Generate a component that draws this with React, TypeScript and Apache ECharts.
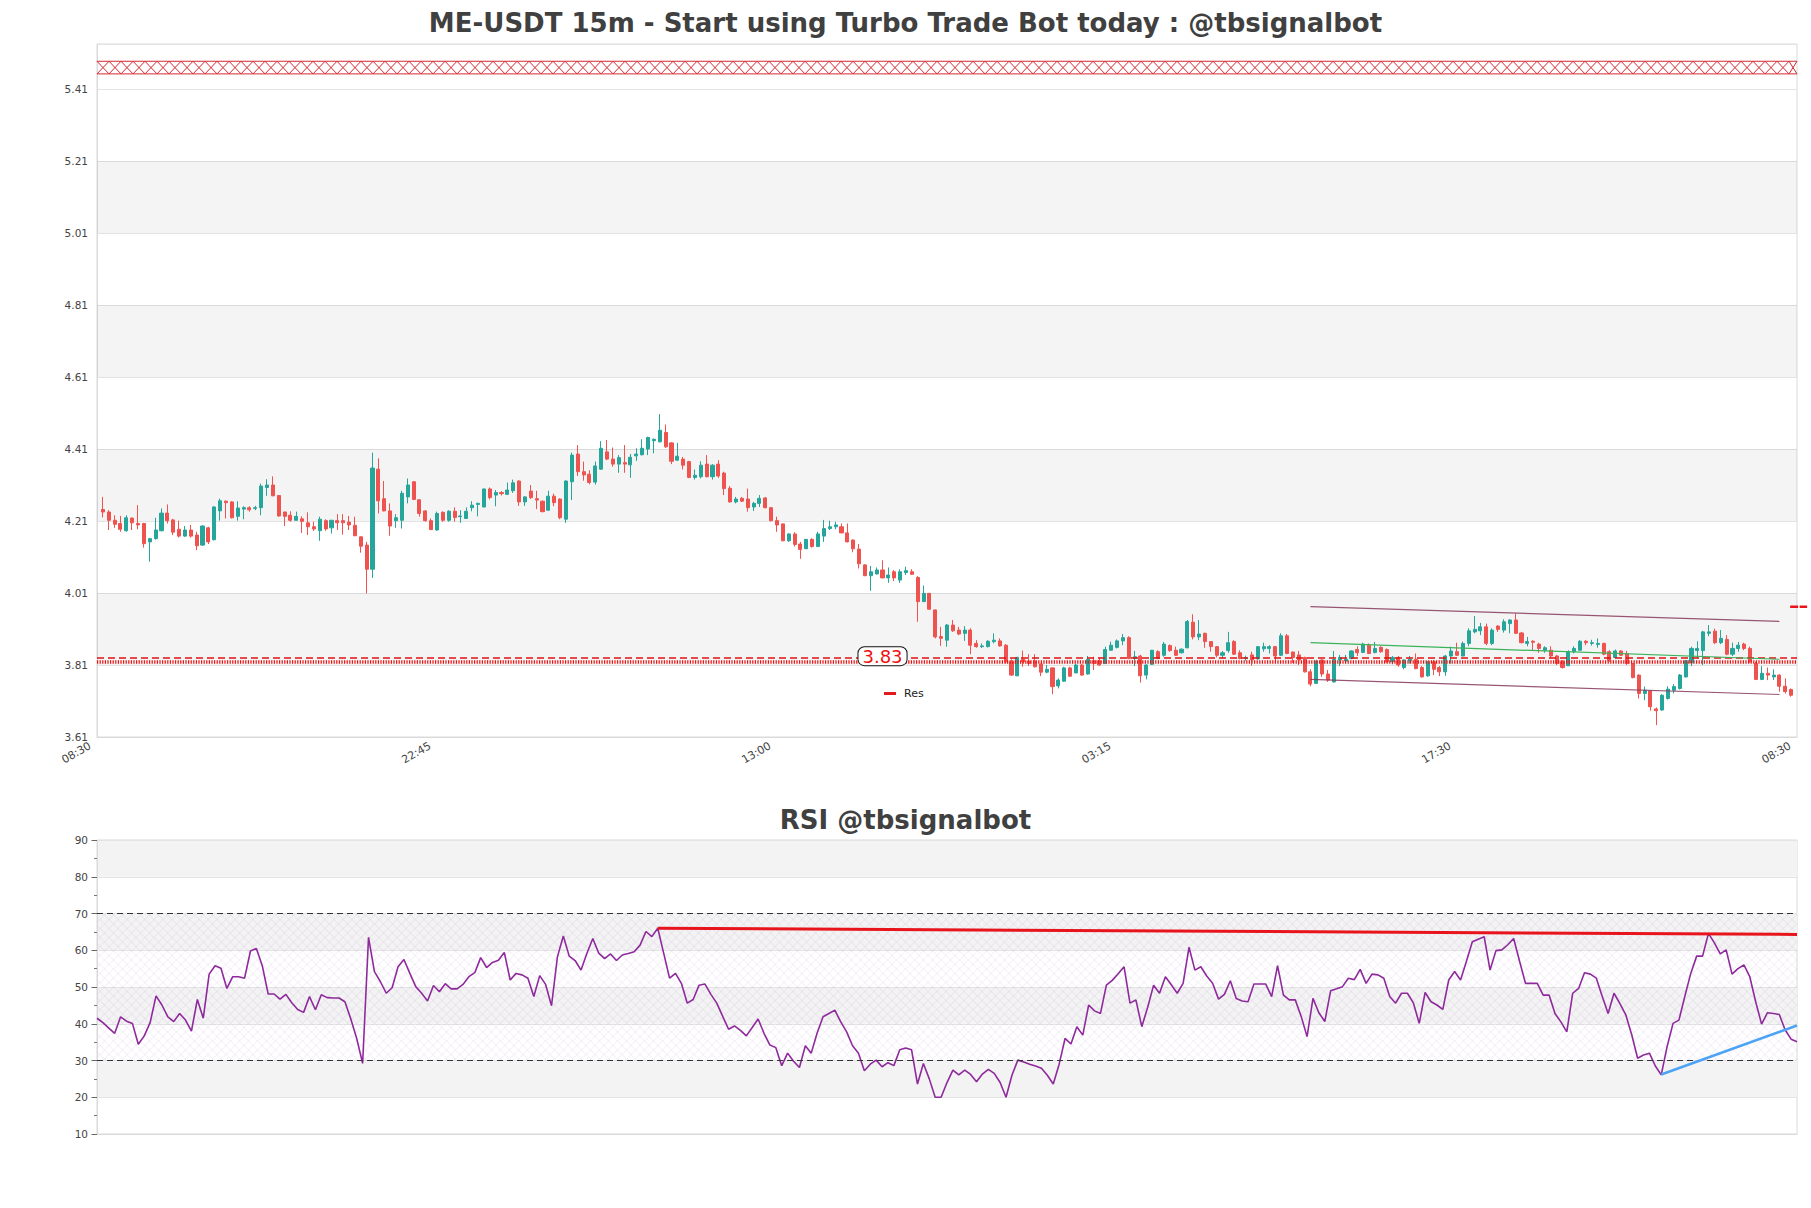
import React, { useEffect, useRef } from "react";
import * as echarts from "echarts";

// ---------------- DATA ----------------
const N = 289;

const opens = [
  4.242,4.235,4.212,4.203,4.183,4.218,4.203,4.203,4.152,4.161,
  4.183,4.232,4.213,4.187,4.168,4.185,4.171,4.143,4.191,4.158,
  4.238,4.265,4.263,4.223,4.243,4.247,4.245,4.247,4.303,4.310,
  4.281,4.235,4.226,4.212,4.216,4.205,4.194,4.183,4.211,4.191,
  4.211,4.211,4.207,4.198,4.166,4.143,4.076,4.354,4.272,4.238,
  4.211,4.212,4.277,4.319,4.269,4.238,4.211,4.185,
  4.234,4.212,4.237,4.222,4.217,4.247,4.256,4.249,4.299,4.282,
  4.289,4.284,4.294,4.321,4.263,4.293,4.272,4.265,4.240,4.279,
  4.271,4.215,4.319,4.396,4.347,4.340,4.318,4.354,4.402,4.382,
  4.368,4.372,4.366,4.391,4.394,4.410,4.433,4.430,4.456,4.427,
  4.379,4.382,4.375,4.331,4.333,4.368,4.333,4.368,4.343,4.301,
  4.263,4.273,4.271,4.249,4.259,4.274,4.247,4.211,
  4.202,4.155,4.174,4.146,4.133,4.159,4.139,4.168,4.189,4.194,
  4.194,4.177,4.157,4.132,4.088,4.058,4.063,4.074,4.052,4.069,
  4.046,4.067,4.069,4.053,3.986,4.009,3.963,3.889,3.879,3.921,
  3.907,3.898,3.907,3.870,3.861,3.861,3.875,3.877,3.865,3.819,
  3.780,3.826,3.821,3.821,3.813,3.790,3.802,3.752,3.765,3.802,
  3.788,3.810,3.785,3.822,3.822,3.814,3.851,3.859,
  3.877,3.886,3.828,3.835,3.782,3.812,3.847,3.837,3.864,3.851,
  3.844,3.858,3.929,3.888,3.898,3.875,3.861,3.837,3.850,3.875,
  3.844,3.828,3.838,3.827,3.855,3.856,3.861,3.837,3.891,3.846,
  3.838,3.831,3.791,3.759,3.824,3.785,3.763,3.824,3.821,3.828,
  3.853,3.845,3.865,3.845,3.859,3.853,3.819,3.831,3.803,3.822,
  3.826,3.803,3.780,3.819,3.803,3.791,3.835,3.847,
  3.835,3.870,3.902,3.905,3.916,3.870,3.918,3.907,3.925,3.935,
  3.899,3.870,3.876,3.868,3.851,3.851,3.835,3.819,3.808,3.847,
  3.851,3.876,3.870,3.867,3.870,3.847,3.831,3.849,3.842,3.814,
  3.782,3.731,3.738,3.688,3.685,3.717,3.740,3.745,3.777,3.816,
  3.850,3.850,3.898,3.904,3.872,3.881,3.840,3.856,3.868,3.856,
  3.814,3.770,3.787,3.777,3.782,3.751,3.742,
];

const closes = [
  4.235,4.212,4.201,4.187,4.219,4.205,4.199,4.147,4.161,4.185,
  4.232,4.211,4.179,4.168,4.185,4.168,4.141,4.196,4.152,4.249,
  4.266,4.261,4.219,4.246,4.247,4.241,4.247,4.307,4.310,4.280,
  4.224,4.223,4.212,4.223,4.209,4.194,4.188,4.215,4.188,4.212,
  4.205,4.205,4.199,4.169,4.140,4.076,4.357,4.266,4.238,4.196,
  4.219,4.287,4.310,4.270,4.231,4.211,4.186,4.231,
  4.212,4.237,4.220,4.224,4.237,4.254,4.259,4.299,4.275,4.289,
  4.286,4.296,4.316,4.263,4.277,4.275,4.268,4.236,4.279,4.261,
  4.219,4.321,4.393,4.347,4.338,4.317,4.363,4.412,4.382,4.368,
  4.386,4.368,4.387,4.396,4.412,4.442,4.437,4.462,4.416,4.376,
  4.390,4.365,4.331,4.337,4.365,4.333,4.365,4.335,4.300,4.263,
  4.271,4.265,4.247,4.259,4.273,4.247,4.211,4.199,
  4.155,4.174,4.145,4.131,4.159,4.139,4.174,4.189,4.194,4.199,
  4.177,4.152,4.133,4.091,4.058,4.069,4.074,4.052,4.060,4.052,
  4.069,4.072,4.062,3.986,4.009,3.965,3.888,3.884,3.921,3.905,
  3.896,3.907,3.865,3.861,3.863,3.876,3.879,3.863,3.819,3.782,
  3.831,3.819,3.814,3.805,3.790,3.798,3.750,3.768,3.802,3.779,
  3.810,3.782,3.826,3.814,3.810,3.853,3.865,3.877,
  3.886,3.828,3.833,3.780,3.810,3.851,3.828,3.868,3.850,3.837,
  3.854,3.931,3.888,3.896,3.875,3.861,3.837,3.844,3.872,3.840,
  3.828,3.830,3.824,3.861,3.861,3.861,3.835,3.891,3.842,3.831,
  3.824,3.791,3.757,3.821,3.785,3.768,3.825,3.831,3.826,3.849,
  3.844,3.868,3.842,3.856,3.847,3.819,3.831,3.810,3.824,3.826,
  3.800,3.777,3.819,3.798,3.791,3.835,3.849,3.837,
  3.870,3.905,3.909,3.916,3.870,3.907,3.909,3.930,3.935,3.898,
  3.872,3.875,3.873,3.856,3.858,3.835,3.814,3.803,3.847,3.856,
  3.876,3.872,3.872,3.870,3.840,3.822,3.849,3.837,3.814,3.775,
  3.731,3.740,3.694,3.683,3.726,3.743,3.750,3.782,3.822,3.856,
  3.856,3.902,3.902,3.872,3.884,3.840,3.856,3.865,3.856,3.819,
  3.770,3.787,3.782,3.782,3.751,3.736,3.726,
];

const lows = [
  4.220,4.185,4.191,4.180,4.180,4.185,4.187,4.136,4.097,4.158,
  4.181,4.203,4.171,4.164,4.166,4.164,4.129,4.141,4.146,4.156,
  4.211,4.217,4.217,4.211,4.215,4.236,4.240,4.226,4.280,4.279,
  4.222,4.196,4.208,4.211,4.177,4.171,4.182,4.155,4.183,4.175,
  4.185,4.172,4.185,4.168,4.122,4.009,4.052,4.231,4.237,4.169,
  4.191,4.189,4.259,4.268,4.222,4.208,4.185,4.183,
  4.208,4.208,4.208,4.205,4.216,4.237,4.223,4.248,4.270,4.251,
  4.281,4.282,4.288,4.252,4.252,4.271,4.243,4.234,4.238,4.251,
  4.215,4.205,4.268,4.335,4.322,4.312,4.311,4.352,4.379,4.361,
  4.344,4.344,4.330,4.377,4.392,4.393,4.398,4.428,4.413,4.368,
  4.377,4.353,4.329,4.325,4.328,4.331,4.325,4.330,4.282,4.261,
  4.259,4.263,4.236,4.238,4.249,4.245,4.209,4.180,
  4.154,4.152,4.139,4.105,4.132,4.136,4.138,4.152,4.185,4.187,
  4.176,4.151,4.123,4.078,4.057,4.016,4.061,4.051,4.038,4.043,
  4.038,4.060,4.060,3.930,3.985,3.963,3.884,3.863,3.861,3.902,
  3.893,3.877,3.840,3.858,3.857,3.859,3.870,3.861,3.814,3.780,
  3.779,3.805,3.807,3.803,3.779,3.787,3.729,3.745,3.763,3.777,
  3.787,3.780,3.783,3.796,3.808,3.813,3.850,3.856,
  3.865,3.826,3.807,3.761,3.770,3.810,3.826,3.833,3.847,3.835,
  3.842,3.856,3.881,3.879,3.858,3.847,3.831,3.828,3.844,3.838,
  3.826,3.822,3.808,3.825,3.847,3.842,3.819,3.835,3.840,3.816,
  3.810,3.789,3.751,3.757,3.777,3.763,3.761,3.807,3.814,3.826,
  3.835,3.843,3.840,3.842,3.844,3.816,3.812,3.805,3.798,3.814,
  3.798,3.775,3.777,3.782,3.779,3.780,3.814,3.835,
  3.834,3.862,3.898,3.893,3.865,3.865,3.902,3.900,3.898,3.896,
  3.870,3.862,3.851,3.844,3.844,3.828,3.810,3.800,3.807,3.842,
  3.849,3.865,3.864,3.858,3.837,3.819,3.828,3.835,3.810,3.773,
  3.717,3.712,3.683,3.643,3.683,3.714,3.731,3.742,3.775,3.807,
  3.828,3.810,3.890,3.868,3.868,3.837,3.835,3.847,3.851,3.816,
  3.768,3.768,3.768,3.768,3.736,3.731,3.722,
];

const highs = [
  4.277,4.240,4.226,4.224,4.226,4.220,4.254,4.205,4.163,4.219,
  4.245,4.256,4.216,4.211,4.196,4.199,4.180,4.198,4.194,4.251,
  4.272,4.267,4.265,4.265,4.251,4.251,4.252,4.314,4.326,4.334,
  4.282,4.236,4.237,4.236,4.223,4.234,4.208,4.222,4.215,4.213,
  4.229,4.229,4.224,4.222,4.167,4.152,4.400,4.384,4.321,4.259,
  4.229,4.294,4.328,4.321,4.270,4.240,4.217,4.236,
  4.237,4.240,4.248,4.240,4.248,4.265,4.261,4.300,4.303,4.296,
  4.293,4.317,4.325,4.323,4.279,4.310,4.294,4.267,4.294,4.286,
  4.273,4.323,4.400,4.421,4.375,4.351,4.375,4.432,4.435,4.414,
  4.393,4.421,4.396,4.412,4.437,4.444,4.439,4.507,4.478,4.429,
  4.427,4.388,4.377,4.353,4.376,4.393,4.368,4.379,4.347,4.307,
  4.277,4.277,4.300,4.263,4.282,4.277,4.249,4.222,
  4.203,4.176,4.179,4.152,4.160,4.162,4.180,4.213,4.211,4.208,
  4.203,4.203,4.159,4.146,4.090,4.085,4.081,4.101,4.081,4.074,
  4.076,4.083,4.076,4.057,4.031,4.010,3.964,3.916,3.924,3.935,
  3.916,3.918,3.912,3.879,3.870,3.879,3.898,3.884,3.868,3.826,
  3.833,3.850,3.840,3.840,3.814,3.810,3.803,3.773,3.805,3.805,
  3.814,3.813,3.835,3.833,3.831,3.861,3.875,3.881,
  3.896,3.890,3.849,3.838,3.812,3.852,3.851,3.874,3.867,3.861,
  3.856,3.935,3.951,3.935,3.900,3.876,3.862,3.849,3.902,3.879,
  3.851,3.836,3.847,3.862,3.872,3.865,3.863,3.898,3.896,3.847,
  3.849,3.833,3.798,3.824,3.826,3.796,3.849,3.838,3.838,3.851,
  3.862,3.872,3.870,3.874,3.862,3.856,3.835,3.835,3.826,3.835,
  3.842,3.807,3.821,3.824,3.807,3.838,3.861,3.872,
  3.875,3.912,3.946,3.927,3.925,3.912,3.921,3.937,3.937,3.953,
  3.902,3.888,3.879,3.872,3.862,3.862,3.838,3.824,3.851,3.862,
  3.879,3.879,3.880,3.884,3.872,3.851,3.853,3.851,3.849,3.816,
  3.784,3.750,3.740,3.692,3.729,3.751,3.757,3.785,3.824,3.861,
  3.876,3.905,3.921,3.911,3.907,3.893,3.872,3.874,3.872,3.861,
  3.819,3.807,3.803,3.798,3.784,3.773,3.745,
];

const rsiValues = [
  41.5,40.3,38.8,37.4,41.9,40.7,40.1,34.4,36.7,40.3,
  47.6,45.1,41.9,40.6,42.8,41.0,38.0,46.6,41.5,53.5,
  55.8,55.1,49.6,52.8,52.8,52.4,59.8,60.5,55.8,48.1,
  48.1,46.7,48.0,45.7,43.9,43.1,47.4,43.8,47.9,47.1,
  47.0,47.0,46.0,41.3,36.0,29.2,63.5,54.2,51.5,48.3,
  49.8,55.5,57.5,53.7,50.1,48.3,46.2,50.4,48.7,50.9,
  49.5,49.5,50.7,52.8,53.9,58.0,55.3,56.7,57.3,59.4,
  51.9,53.7,53.3,52.4,47.4,53.1,50.7,44.9,58.2,63.9,
  58.4,57.2,54.6,59.2,63.2,59.2,57.7,59.0,57.2,58.7,
  59.1,59.6,61.4,65.1,63.7,66.0,59.2,52.4,53.7,51.0,
  45.6,46.6,50.5,50.8,48.0,45.6,42.0,38.5,39.4,38.2,
  36.7,39.0,41.3,37.4,34.2,33.5,28.6,32.0,29.8,28.1,
  34.0,32.0,37.5,41.9,42.8,43.7,40.5,37.8,34.0,32.0,
  27.2,29.0,30.1,28.3,29.4,28.6,32.9,33.4,32.9,23.6,
  29.2,25.0,20.0,20.0,24.0,27.4,26.1,27.4,26.2,24.2,
  26.3,27.6,26.5,24.0,20.0,26.0,30.1,29.6,29.0,28.5,
  27.9,26.0,23.6,29.0,36.0,34.5,39.2,36.9,45.1,43.5,
  42.8,50.5,51.8,53.6,55.5,45.6,46.5,39.2,44.5,50.5,
  48.3,52.8,50.6,48.3,51.0,60.8,54.6,55.5,53.0,51.0,
  46.7,48.0,51.7,46.9,46.2,46.0,50.8,50.8,50.8,47.4,
  55.8,47.8,46.5,46.5,42.0,36.5,46.9,43.0,40.6,49.0,
  49.5,50.1,52.4,52.0,54.8,51.0,53.5,53.3,52.4,47.4,
  45.6,48.3,48.3,45.7,40.1,48.5,46.0,45.1,43.9,51.9,
  54.2,51.9,57.0,62.3,63.0,63.7,54.6,59.9,60.1,61.5,
  63.2,57.0,51.0,51.0,51.0,47.8,47.8,42.8,40.5,37.8,
  48.3,49.6,53.9,53.5,52.4,47.5,42.8,48.3,45.5,42.4,
  37.0,30.6,31.5,32.0,28.5,26.1,33.8,40.1,41.0,47.5,
  53.7,58.4,58.4,64.6,62.0,59.0,60.1,53.5,55.0,56.0,
  52.8,46.0,39.9,43.0,42.8,42.5,38.3,35.8,35.1,
];

const xTickLabels = ["08:30", "22:45", "13:00", "03:15", "17:30", "08:30"];
const priceMin = 3.61;
const priceMax = 5.535;
const priceStep = 0.2;
const priceBands = [[3.81, 4.01], [4.21, 4.41], [4.61, 4.81], [5.01, 5.21]];
const topZone = [5.452, 5.487];
const resLevel = 3.829;
const resZoneLevel = 3.8195;
const resLabelAt = 133;
const channelUpper = [[206, 3.972], [286, 3.931]];
const channelLower = [[206, 3.770], [286, 3.728]];
const channelMid = [[206, 3.872], [286, 3.826]];
const lastMarker = [288, 3.972];
const rsiLevels = [30, 70];
const rsiResistance = [[95, 66.0], [288, 64.3]];
const rsiSupport = [[265, 26.2], [288, 39.5]];

// ---------------- STYLE ----------------
const FONT = "'DejaVu Sans', 'Noto Sans', sans-serif";
const UP = "#26a69a";
const DOWN = "#ef5350";
const GRID_LINE = "#e3e3e3";
const FRAME = "#dadada";
const LABEL = "#444444";

function buildTimes(count: number) {
  const out: string[] = [];
  const start = 8 * 60 + 30;
  for (let i = 0; i < count; i++) {
    const t = start + i * 15;
    const day = Math.floor(t / 1440) + 1;
    const m = t % 1440;
    const hh = String(Math.floor(m / 60)).padStart(2, "0");
    const mm = String(m % 60).padStart(2, "0");
    out.push(`D${day} ${hh}:${mm}`);
  }
  return out;
}

export default function App() {
  const ref = useRef<HTMLDivElement>(null);

  useEffect(() => {
    if (!ref.current) return;
    const chart = echarts.init(ref.current, null, { renderer: "svg" });

    const times = buildTimes(N);
    const mainCats = ["pad-start", ...times, "pad-end"];
    const empty = ["-", "-", "-", "-"];
    const candleData = [
      empty,
      ...opens.map((o, i) => [o, closes[i], lows[i], highs[i]]),
      empty,
    ];
    const shift = (pts: number[][]) => pts.map(([i, v]) => [i + 1, v]);

    const lastCat = mainCats.length - 1;
    const tickCatIdx = xTickLabels.map((_, k) =>
      Math.round((k * lastCat) / (xTickLabels.length - 1))
    );
    const tickSet = new Set(tickCatIdx);
    const labelByCat: Record<string, string> = {};
    tickCatIdx.forEach((ci, k) => {
      labelByCat[mainCats[ci]] = xTickLabels[k];
    });
    const tickInterval = (index: number) => tickSet.has(index);

    const option: any = {
      animation: false,
      backgroundColor: "#ffffff",
      textStyle: { fontFamily: FONT },
      title: [
        {
          text: "ME-USDT 15m - Start using Turbo Trade Bot today : @tbsignalbot",
          left: "center",
          top: 8,
          padding: 0,
          textStyle: { fontSize: 26, fontWeight: "bold", color: "#404040", fontFamily: FONT, lineHeight: 30 },
        },
        {
          text: "RSI @tbsignalbot",
          left: "center",
          top: 805,
          padding: 0,
          textStyle: { fontSize: 26, fontWeight: "bold", color: "#404040", fontFamily: FONT, lineHeight: 30 },
        },
      ],
      legend: {
        data: ["Res"],
        left: 884,
        top: 688,
        padding: 0,
        icon: "rect",
        itemWidth: 12,
        itemHeight: 3,
        selectedMode: false,
        textStyle: { fontSize: 11, color: "#222", fontFamily: FONT, padding: [0, 0, 0, 3] },
      },
      grid: [
        { left: 97, top: 44, width: 1700, height: 693, show: true, borderColor: FRAME, borderWidth: 1, backgroundColor: "transparent", outerBoundsMode: "none" },
        { left: 97, top: 840, width: 1700, height: 294, show: true, borderColor: FRAME, borderWidth: 1, backgroundColor: "transparent", outerBoundsMode: "none" },
      ],
      xAxis: [
        {
          type: "category",
          gridIndex: 0,
          data: mainCats,
          boundaryGap: false,
          axisLine: { show: true, lineStyle: { color: FRAME } },
          axisTick: { show: false },
          axisLabel: {
            show: true,
            interval: tickInterval,
            rotate: 30,
            margin: 4,
            fontSize: 11,
            color: LABEL,
            fontFamily: FONT,
            padding: [0, 8, 0, 0],
            formatter: (v: string) => labelByCat[v] ?? "",
          },
          splitLine: { show: false },
        },
        {
          type: "category",
          gridIndex: 1,
          data: times,
          boundaryGap: false,
          axisLine: { show: true, lineStyle: { color: FRAME } },
          axisTick: { show: false },
          axisLabel: { show: false },
          splitLine: { show: false },
        },
      ],
      yAxis: [
        {
          type: "value",
          gridIndex: 0,
          min: priceMin,
          max: priceMax,
          interval: priceStep,
          axisLine: { show: true, lineStyle: { color: FRAME } },
          axisTick: { show: false },
          axisLabel: {
            showMaxLabel: false,
            margin: 9,
            fontSize: 10.5,
            color: LABEL,
            fontFamily: FONT,
            formatter: (v: number) => v.toFixed(2),
          },
          splitLine: { show: true, lineStyle: { color: GRID_LINE, width: 1 } },
          splitArea: { show: false },
        },
        {
          type: "value",
          gridIndex: 1,
          min: 10,
          max: 90,
          interval: 10,
          axisLine: { show: true, lineStyle: { color: FRAME } },
          axisTick: { show: true, length: 5.5, lineStyle: { color: "#666" } },
          minorTick: { show: true, splitNumber: 2, length: 3, lineStyle: { color: "#777" } },
          axisLabel: { margin: 9, fontSize: 10.5, color: LABEL, fontFamily: FONT },
          splitLine: { show: true, lineStyle: { color: GRID_LINE, width: 1 } },
          splitArea: { show: true, areaStyle: { color: ["rgba(255,255,255,0)", "#f3f3f3"] } },
        },
      ],
      series: [
        {
          type: "custom",
          name: "zone",
          xAxisIndex: 0,
          yAxisIndex: 0,
          silent: true,
          z: 3,
          data: [[1, (topZone[0] + topZone[1]) / 2]],
          renderItem: (params: any, api: any) => {
            const cs = params.coordSys;
            const yT = api.coord([1, topZone[1]])[1];
            const yB = api.coord([1, topZone[0]])[1];
            const x0 = cs.x;
            const x1 = cs.x + cs.width;
            const cell = 12;
            let d = `M${x0},${yT}L${x1},${yT}M${x0},${yB}L${x1},${yB}`;
            for (let x = x0; x < x1 - 0.5; x += cell) {
              const xe = Math.min(x + cell, x1);
              d += `M${x},${yT}L${xe},${yB}M${x},${yB}L${xe},${yT}`;
            }
            return {
              type: "path",
              shape: { pathData: d },
              style: { stroke: "#d42a32", fill: "none", lineWidth: 1 },
            };
          },
        },
        {
          type: "candlestick",
          name: "Candles",
          xAxisIndex: 0,
          yAxisIndex: 0,
          data: candleData,
          barWidth: 3.6,
          z: 4,
          itemStyle: {
            color: UP,
            color0: DOWN,
            borderColor: UP,
            borderColor0: DOWN,
            borderWidth: 1,
          },
          markArea: {
            silent: true,
            itemStyle: { color: "rgba(0,0,0,0.045)" },
            data: priceBands.map(([a, b]) => [{ yAxis: a }, { yAxis: b }]),
          },
        },
        {
          type: "line",
          name: "Upper",
          xAxisIndex: 0,
          yAxisIndex: 0,
          data: shift(channelUpper),
          symbol: "none",
          silent: true,
          z: 5,
          lineStyle: { color: "#86385a", width: 1.2, opacity: 0.85 },
        },
        {
          type: "line",
          name: "Lower",
          xAxisIndex: 0,
          yAxisIndex: 0,
          data: shift(channelLower),
          symbol: "none",
          silent: true,
          z: 5,
          lineStyle: { color: "#86385a", width: 1.2, opacity: 0.85 },
        },
        {
          type: "line",
          name: "Mid",
          xAxisIndex: 0,
          yAxisIndex: 0,
          data: shift(channelMid),
          symbol: "none",
          silent: true,
          z: 5,
          lineStyle: { color: "#3cb35a", width: 1.2 },
        },
        {
          type: "line",
          name: "Res",
          xAxisIndex: 0,
          yAxisIndex: 0,
          data: [[resLabelAt + 1, resLevel]],
          showSymbol: false,
          symbol: "none",
          silent: true,
          z: 6,
          itemStyle: { color: "#e31a1c" },
          lineStyle: { color: "#e31a1c", width: 0 },
          markLine: {
            silent: true,
            symbol: "none",
            label: { show: false },
            data: [
              { yAxis: resLevel, lineStyle: { color: "#e01010", width: 1.6, type: [7, 4] } },
              { yAxis: resZoneLevel, lineStyle: { color: "#ee1111", width: 3.5, type: [1.2, 1.4] } },
            ],
          },
          markPoint: {
            silent: true,
            symbol: "rect",
            symbolSize: [1, 1],
            itemStyle: { color: "rgba(0,0,0,0)" },
            data: [{ coord: [resLabelAt + 1, resLevel], value: resLevel }],
            label: {
              show: true,
              position: "inside",
              offset: [0, -2],
              formatter: () => resLevel.toFixed(2),
              fontSize: 18,
              lineHeight: 18,
              color: "#ee1111",
              fontFamily: FONT,
              backgroundColor: "#ffffff",
              borderColor: "#111111",
              borderWidth: 1,
              borderRadius: 6,
              padding: [0, 4, 0, 4],
            },
          },
        },
        {
          type: "custom",
          name: "lastMark",
          xAxisIndex: 0,
          yAxisIndex: 0,
          silent: true,
          clip: false,
          z: 7,
          data: [[lastMarker[0] + 1, lastMarker[1]]],
          renderItem: (params: any, api: any) => {
            const p = api.coord([api.value(0), api.value(1)]);
            return {
              type: "line",
              shape: { x1: p[0] - 1, y1: p[1], x2: p[0] + 16, y2: p[1] },
              style: { stroke: "#e8141c", lineWidth: 2.6, lineDash: [8, 1.5] },
            };
          },
        },
        {
          type: "custom",
          name: "rsiHatch",
          xAxisIndex: 1,
          yAxisIndex: 1,
          silent: true,
          z: 1,
          data: [[0, 50]],
          renderItem: (params: any, api: any) => {
            const cs = params.coordSys;
            const yT = api.coord([0, rsiLevels[1]])[1];
            const yB = api.coord([0, rsiLevels[0]])[1];
            const H = yB - yT;
            const L = cs.x;
            const R = cs.x + cs.width;
            const step = 9;
            let d = "";
            for (let c = L - H; c < R; c += step) {
              let xa = c, ya = yT, xb = c + H, yb = yB;
              if (xa < L) { ya = yT + (L - xa); xa = L; }
              if (xb > R) { yb = yB - (xb - R); xb = R; }
              if (xb > xa) d += `M${xa},${ya}L${xb},${yb}`;
              let xc = c, yc = yB, xd = c + H, yd = yT;
              if (xc < L) { yc = yB - (L - xc); xc = L; }
              if (xd > R) { yd = yT + (xd - R); xd = R; }
              if (xd > xc) d += `M${xc},${yc}L${xd},${yd}`;
            }
            return {
              type: "path",
              shape: { pathData: d },
              style: { stroke: "rgba(170,130,200,0.22)", fill: "none", lineWidth: 0.7 },
            };
          },
        },
        {
          type: "line",
          name: "RSI",
          xAxisIndex: 1,
          yAxisIndex: 1,
          data: rsiValues,
          symbol: "none",
          silent: true,
          z: 4,
          lineStyle: { color: "#8e2a9c", width: 1.6 },
          markLine: {
            silent: true,
            symbol: "none",
            label: { show: false },
            lineStyle: { color: "#333333", width: 1.2, type: [6, 4] },
            data: rsiLevels.map((v) => ({ yAxis: v })),
          },
        },
        {
          type: "line",
          name: "RSI Res",
          xAxisIndex: 1,
          yAxisIndex: 1,
          data: rsiResistance,
          symbol: "none",
          silent: true,
          z: 5,
          lineStyle: { color: "#e8141c", width: 3 },
        },
        {
          type: "line",
          name: "RSI Sup",
          xAxisIndex: 1,
          yAxisIndex: 1,
          data: rsiSupport,
          symbol: "none",
          silent: true,
          z: 5,
          lineStyle: { color: "#4da3f5", width: 2.6 },
        },
      ],
    };

    chart.setOption(option);
    return () => chart.dispose();
  }, []);

  return (
    <div
      ref={ref}
      style={{ position: "absolute", left: 0, top: 0, width: 1811, height: 1208, background: "#ffffff" }}
    />
  );
}
